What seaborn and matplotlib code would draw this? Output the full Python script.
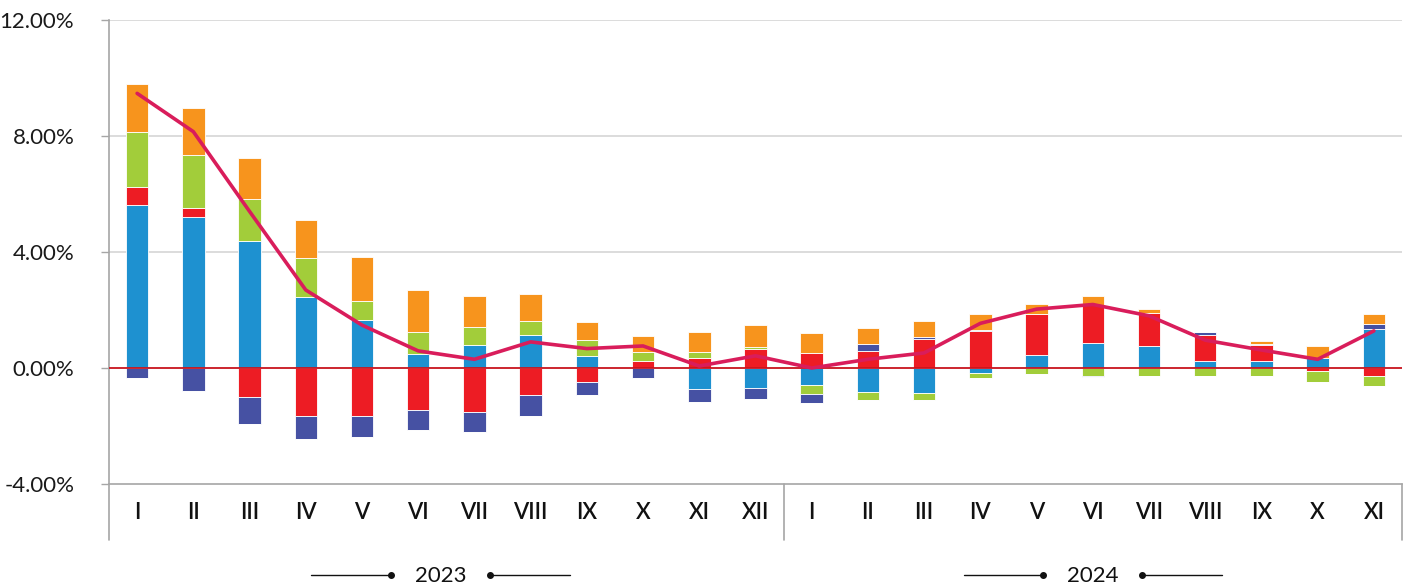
import numpy as np
import matplotlib
matplotlib.use("Agg")
import matplotlib.pyplot as plt
import matplotlib.transforms as mtransforms
import seaborn as sns

# months, two years
months_2023 = ["I", "II", "III", "IV", "V", "VI", "VII", "VIII", "IX", "X", "XI", "XII"]
months_2024 = ["I", "II", "III", "IV", "V", "VI", "VII", "VIII", "IX", "X", "XI"]
year_labels = ["2023", "2024"]

# contributions (percentage points), stacked in this order
blue = [5.62, 5.22, 4.39, 2.46, 1.67, 0.49, 0.80, 1.14, 0.43, 0.00, -0.73, -0.70,
        -0.58, -0.83, -0.86, -0.18, 0.45, 0.86, 0.77, 0.25, 0.25, 0.33, 1.33]
red = [0.62, 0.31, -1.00, -1.67, -1.64, -1.46, -1.53, -0.94, -0.49, 0.24, 0.34, 0.64,
       0.52, 0.60, 0.99, 1.28, 1.42, 1.31, 1.11, 0.89, 0.53, -0.09, -0.28]
green = [1.90, 1.81, 1.44, 1.32, 0.64, 0.76, 0.60, 0.49, 0.53, 0.30, 0.20, 0.09,
         -0.32, -0.28, -0.25, -0.18, -0.20, -0.29, -0.28, -0.27, -0.29, -0.39, -0.35]
indigo = [-0.33, -0.79, -0.92, -0.78, -0.74, -0.68, -0.69, -0.72, -0.45, -0.33, -0.43, -0.36,
          -0.32, 0.23, 0.08, 0.03, 0.00, -0.02, 0.00, 0.10, 0.06, 0.00, 0.20]
orange = [1.64, 1.61, 1.42, 1.34, 1.53, 1.45, 1.10, 0.92, 0.64, 0.56, 0.69, 0.76,
          0.69, 0.56, 0.55, 0.55, 0.34, 0.33, 0.15, -0.02, 0.08, 0.44, 0.34]
# total (line)
total = [9.47, 8.15, 5.40, 2.69, 1.48, 0.59, 0.30, 0.90, 0.67, 0.76, 0.07, 0.42,
         0.00, 0.30, 0.52, 1.54, 2.03, 2.19, 1.80, 0.96, 0.62, 0.30, 1.28]

series = [blue, red, green, indigo, orange]
colors = ["#1e91d0", "#ed1c24", "#a2cd3a", "#4651a3", "#f7941d"]
line_color = "#d91d5b"

sns.set_theme(style="white")
plt.rcParams["font.family"] = ["Lato", "DejaVu Sans"]

fig = plt.figure(figsize=(14.08, 5.86), dpi=100)
ax = fig.add_axes([109 / 1408, 102 / 586, 1293 / 1408, 464 / 586])

labels = months_2023 + months_2024
x = np.arange(len(labels))

pos_bottom = np.zeros(len(x))
neg_bottom = np.zeros(len(x))
for vals, c in zip(series, colors):
    v = np.array(vals)
    pos = np.where(v > 0, v, 0)
    neg = np.where(v < 0, v, 0)
    ax.bar(x, pos, width=0.4, bottom=pos_bottom, color=c, edgecolor="#ffffff",
           linewidth=0.6, zorder=2)
    ax.bar(x, neg, width=0.4, bottom=neg_bottom, color=c, edgecolor="#ffffff",
           linewidth=0.6, zorder=2)
    pos_bottom += pos
    neg_bottom += neg

ax.axhline(0, color="#c8141e", lw=1.3, zorder=3)
sns.lineplot(x=x, y=total, ax=ax, color=line_color, lw=2.6, zorder=4)

ax.set_xlim(-0.5, len(x) - 0.5)
ax.set_ylim(-4, 12)
yt = [-4, 0, 4, 8, 12]
ax.set_yticks(yt)
ax.set_yticklabels([f"{v:.2f}%" for v in yt], fontsize=16, color="#1a1a1a")
for v in [4, 8, 12]:
    ax.axhline(v, color="#dcdcdc", lw=1.4, zorder=0)
ax.tick_params(axis="y", length=6, width=1, color="#a6a6a6", pad=19, left=True)
ax.set_xticks([])

for s in ["top", "right"]:
    ax.spines[s].set_visible(False)
for s in ["left", "bottom"]:
    ax.spines[s].set_color("#a6a6a6")
    ax.spines[s].set_linewidth(1.2)

trans = mtransforms.blended_transform_factory(ax.transData, ax.transAxes)
box_bottom = -0.12
for xv in [-0.5, 11.5, len(x) - 0.5]:
    ax.plot([xv, xv], [0, box_bottom], transform=trans, color="#a6a6a6", lw=1.2, clip_on=False)

for xi, lab in zip(x, labels):
    ax.text(xi, -0.062, lab, transform=trans, ha="center", va="center",
            fontsize=16, fontweight="semibold", color="#111111")

year_centers = [5.4, 17.0]
for yc, yl in zip(year_centers, year_labels):
    ax.text(yc, -0.198, yl, transform=trans, ha="center", va="center",
            fontsize=16, color="#111111")
    ax.plot([yc - 2.3, yc - 0.88], [-0.196, -0.196], transform=trans, color="#111111",
            lw=1, clip_on=False)
    ax.plot([yc - 0.88], [-0.196], marker="o", ms=4, color="#111111", transform=trans, clip_on=False)
    ax.plot([yc + 0.88, yc + 2.3], [-0.196, -0.196], transform=trans, color="#111111",
            lw=1, clip_on=False)
    ax.plot([yc + 0.88], [-0.196], marker="o", ms=4, color="#111111", transform=trans, clip_on=False)

fig.savefig("out.png", dpi=100, facecolor="white")
